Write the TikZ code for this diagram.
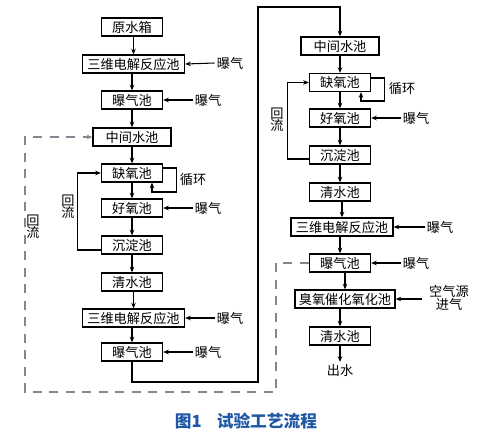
\documentclass[tikz,border=0pt]{standalone}
\usepackage{fontspec}
\setmainfont{Noto Sans CJK SC}
\usetikzlibrary{arrows.meta}
\definecolor{backgray}{RGB}{128,136,146}
\definecolor{capblue}{RGB}{32,88,165}

\tikzset{
  pool/.style={draw, line width=0.75pt, minimum height=0.36cm, inner sep=0pt,
    font=\fontsize{7.5}{9}\selectfont},
  short/.style={pool, minimum width=1.22cm},
  mid/.style={pool, minimum width=1.56cm},
  long/.style={pool, minimum width=2.04cm},
  lbl/.style={font=\fontsize{7.5}{9}\selectfont, inner sep=1pt, align=center},
  flow/.style={line width=0.6pt, -{Stealth[length=3.2pt,width=2.6pt]}},
  back/.style={flow, draw=backgray, line width=1.1pt, dash pattern=on 0.18cm off 0.15cm},
}

\begin{document}
\begin{tikzpicture}[x=0.02cm, y=-0.02cm]
  \useasboundingbox (0,0) rectangle (480,433);
  % left line
  \node[short] (yuan) at (132,27)  {原水箱};
  \node[long]  (sw1)  at (133.5,64) {三维电解反应池};
  \node[short] (bq1)  at (132,100) {曝气池};
  \node[mid]   (zj1)  at (132,137) {中间水池};
  \node[short] (qy1)  at (132,173) {缺氧池};
  \node[short] (hy1)  at (132,208) {好氧池};
  \node[short] (cd1)  at (132,245) {沉淀池};
  \node[short] (qs1)  at (132,282) {清水池};
  \node[long]  (sw2)  at (133.5,318) {三维电解反应池};
  \node[short] (bq2)  at (132,352) {曝气池};
  % right line
  \node[mid]   (zj2)  at (340,46)  {中间水池};
  \node[short] (qy2)  at (340,82.5) {缺氧池};
  \node[short] (hy2)  at (340,118) {好氧池};
  \node[short] (cd2)  at (340,155) {沉淀池};
  \node[short] (qs2)  at (340,192) {清水池};
  \node[long]  (sw3)  at (342,227) {三维电解反应池};
  \node[short] (bq3)  at (340,263) {曝气池};
  \node[pool, minimum width=2cm] (cy) at (345,299) {臭氧催化氧化池};
  \node[short] (qs3)  at (340,336) {清水池};
  \node[lbl]   (out)  at (340,370) {出水};

  \foreach \a/\b in {yuan/sw1, sw1/bq1, bq1/zj1, zj1/qy1, qy1/hy1, hy1/cd1,
      cd1/qs1, qs1/sw2, sw2/bq2, zj2/qy2, qy2/hy2, hy2/cd2, cd2/qs2,
      qs2/sw3, sw3/bq3, bq3/cy, cy/qs3, qs3/out}
    \draw[flow] (\a.south -| \b.north) -- (\b.north);

  % aeration
  \foreach \n/\p in {sw1/{230,63}, bq1/{208,100}, hy1/{208,208}, sw2/{230,318},
      bq2/{208,352}, hy2/{416,118}, sw3/{440,227}, bq3/{416,263}}{
    \node[lbl] (air-\n) at (\p) {曝气};
    \draw[flow] (air-\n.west) -- (\n.east);
  }
  \node[lbl] (ozin) at (449,298) {空气源\\[-2pt]进气};
  \draw[flow] (ozin.west |- cy) ++(-5,0) -- (cy.east);

  % recycle loops
  \draw[flow] ([yshift=0.1cm]qy1.east) -- ++(13.5,0) -- ++(0,24)
    -| ([xshift=0.4cm]qy1.south);
  \node[lbl] (xh1) at (193,180) {循环};
  \draw[flow] ([yshift=0.09cm]qy2.east) -- ++(13.5,0) -- ++(0,23)
    -| ([xshift=0.42cm]qy2.south);
  \node[lbl] (xh2) at (402,89) {循环};

  % return sludge
  \draw[flow] ([yshift=-0.1cm]cd1.west) -- ++(-23,0) |- (qy1.west);
  \node[lbl] (hl1) at (68,207) {回\\[-2pt]流};
  \draw[flow] ([yshift=-0.08cm]cd2.west) -- ++(-21.5,0) |- (qy2.west);
  \node[lbl] (hl2) at (277,120) {回\\[-2pt]流};

  % to second stage
  \coordinate (turnA) at (258,382);
  \coordinate (turnB) at (258,7);
  \draw[flow] (bq2.south) |- (turnA) -- (turnB) -| (zj2.north);

  % outer return
  \coordinate (backR) at (276,392);
  \coordinate (backL) at (25,392);
  \draw[back] (bq3.west) -| (backR) -- (backL) |- (zj1.west);
  \node[lbl] (hl3) at (33,227) {回\\[-2pt]流};

  \node[font=\fontsize{9.5}{11}\selectfont\bfseries, text=capblue] (cap)
    at (246,421) {图1\hspace{0.9em}试验工艺流程};
\end{tikzpicture}
\end{document}
